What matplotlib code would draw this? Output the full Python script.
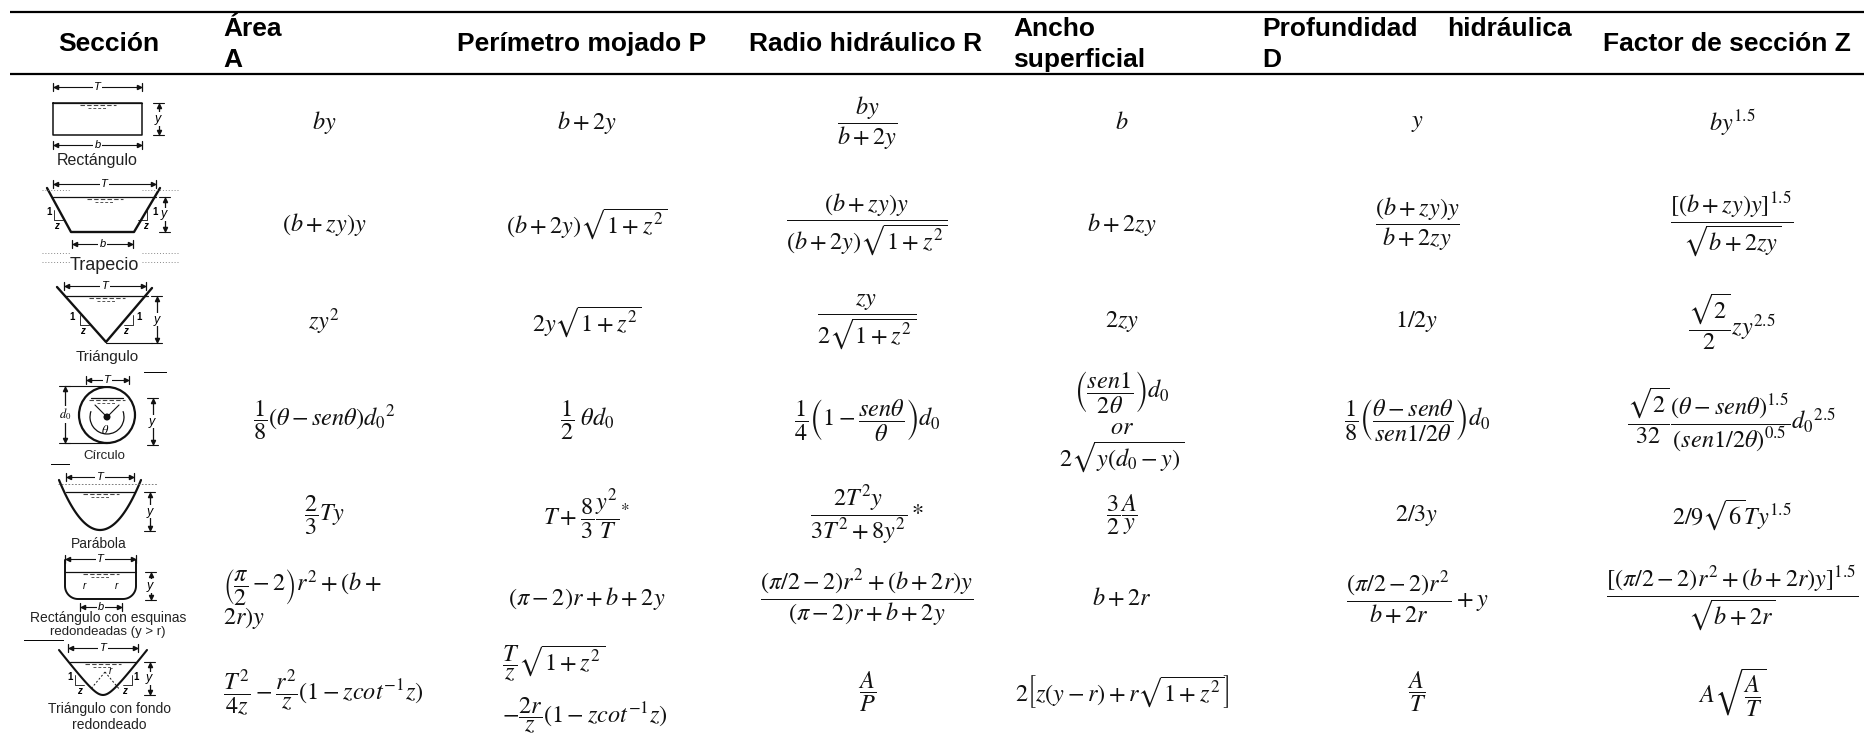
import numpy as np
import matplotlib
matplotlib.use("Agg")
import matplotlib.pyplot as plt
from matplotlib.patches import Circle, Arc

plt.rcParams['font.family'] = ['Liberation Sans', 'DejaVu Sans']
plt.rcParams['mathtext.fontset'] = 'stix'

# ---- table content ----
header_single = ["Sección", "Perímetro mojado P", "Radio hidráulico R", "Factor de sección Z"]
header_single_left = [58, 457, 749, 1603]
header_double = [("Área", "A"), ("Ancho", "superficial"), ("Profundidad", "D")]
header_double_left = [223, 1013, 1262]

area = [r"$by$", r"$(b+zy)y$", r"$zy^2$", r"$\dfrac{1}{8}(\theta-sen\theta){d_0}^{2}$",
        r"$\dfrac{2}{3}Ty$", None, None]
perimetro = [r"$b+2y$", r"$(b+2y)\sqrt{1+z^2}$", r"$2y\sqrt{1+z^2}$", r"$\dfrac{1}{2}\ \theta d_0$",
             r"$T+\dfrac{8}{3}\dfrac{y^2}{T}{}^{*}$", r"$(\pi-2)r+b+2y$", None]
radio = [r"$\dfrac{by}{b+2y}$", r"$\dfrac{(b+zy)y}{(b+2y)\sqrt{1+z^2}}$", r"$\dfrac{zy}{2\sqrt{1+z^2}}$",
         r"$\dfrac{1}{4}\left(1-\dfrac{sen\theta}{\theta}\right)d_0$",
         r"$\dfrac{2T^2y}{3T^2+8y^2}\,{*}$",
         r"$\dfrac{(\pi/2-2)r^2+(b+2r)y}{(\pi-2)r+b+2y}$", r"$\dfrac{A}{P}$"]
ancho = [r"$b$", r"$b+2zy$", r"$2zy$", None, r"$\dfrac{3}{2}\dfrac{A}{y}$", r"$b+2r$",
         r"$2\left[z(y-r)+r\sqrt{1+z^2}\right]$"]
profundidad = [r"$y$", r"$\dfrac{(b+zy)y}{b+2zy}$", r"$1/2y$",
               r"$\dfrac{1}{8}\left(\dfrac{\theta-sen\theta}{sen1/2\theta}\right)d_0$",
               r"$2/3y$", r"$\dfrac{(\pi/2-2)r^2}{b+2r}+y$", r"$\dfrac{A}{T}$"]
factor = [r"$by^{1.5}$", r"$\dfrac{[(b+zy)y]^{1.5}}{\sqrt{b+2zy}}$", r"$\dfrac{\sqrt{2}}{2}zy^{2.5}$",
          r"$\dfrac{\sqrt{2}}{32}\dfrac{(\theta-sen\theta)^{1.5}}{(sen1/2\theta)^{0.5}}{d_0}^{2.5}$",
          r"$2/9\sqrt{6}Ty^{1.5}$", r"$\dfrac{[(\pi/2-2)r^2+(b+2r)y]^{1.5}}{\sqrt{b+2r}}$",
          r"$A\sqrt{\dfrac{A}{T}}$"]
columns = [area, perimetro, radio, ancho, profundidad, factor]
column_centers = [324, 587, 867, 1122, 1417, 1732]
row_centers = [123, 224, 322, 420, 515, 598, 692]

# cells that wrap on several lines: (text, x, y, ha)
wrapped = [
    (r"$\left(\dfrac{\pi}{2}-2\right)r^2+(b+$", 223, 587, "left"),
    (r"$2r)y$", 223, 618, "left"),
    (r"$\dfrac{T^2}{4z}-\dfrac{r^2}{z}(1-zcot^{-1}z)$", 223, 693, "left"),
    (r"$\dfrac{T}{z}\sqrt{1+z^2}$", 502, 664, "left"),
    (r"$-\dfrac{2r}{z}(1-zcot^{-1}z)$", 502, 716, "left"),
    (r"$\left(\dfrac{sen1}{2\theta}\right)d_0$", 1122, 392, "center"),
    (r"$or$", 1122, 428, "center"),
    (r"$2\sqrt{y(d_0-y)}$", 1122, 457, "center"),
]

section_labels = [("Rectángulo", 97, 161, 11.5), ("Trapecio", 104, 265, 13),
                  ("Triángulo", 107, 357, 11), ("Círculo", 104, 456, 9.5),
                  ("Parábola", 99, 544, 10), ("Rectángulo con esquinas", 108, 618, 10),
                  ("redondeadas (y > r)", 108, 632, 9.5), ("Triángulo con fondo", 109, 709, 10),
                  ("redondeado", 109, 725, 10)]

fig = plt.figure(figsize=(18.65, 7.34), dpi=100)
ax = fig.add_axes([0, 0, 1, 1])
ax.set_xlim(0, 1865)
ax.set_ylim(734, 0)
ax.axis("off")

# rules
ax.plot([10, 1865], [11.5, 11.5], color="black", lw=1.6, solid_capstyle="butt")
ax.plot([10, 1865], [73.5, 73.5], color="black", lw=1.6, solid_capstyle="butt")
for xa, xb, yy in [(144, 166, 372), (51, 69, 464), (24, 63, 640)]:
    ax.plot([xa, xb], [yy, yy], color="black", lw=0.7)

# header
HF = 19
for label, xl in zip(header_single, header_single_left):
    ax.text(xl, 44, label, fontsize=HF, fontweight="bold", ha="left", va="center")
for (l1, l2), xl in zip(header_double, header_double_left):
    ax.text(xl, 29, l1, fontsize=HF, fontweight="bold", ha="left", va="center")
    ax.text(xl, 60, l2, fontsize=HF, fontweight="bold", ha="left", va="center")
ax.text(1572, 29, "hidráulica", fontsize=HF, fontweight="bold", ha="right", va="center")

# formulas
MF = 17.5
for col, cx in zip(columns, column_centers):
    for cell, cy in zip(col, row_centers):
        if cell is not None:
            ax.text(cx, cy, cell, fontsize=MF, ha="center", va="center", color="#111111")
for txt, xx, yy, ha in wrapped:
    ax.text(xx, yy, txt, fontsize=MF, ha=ha, va="center", color="#111111")

# section captions
for txt, xx, yy, fs in section_labels:
    ax.text(xx, yy, txt, fontsize=fs, ha="center", va="center", color="#222222")


# ---- sketch helpers ----
def seg(xs, ys, lw=1.2, color="#111111", ls="-"):
    ax.plot(xs, ys, color=color, lw=lw, ls=ls, solid_capstyle="round")


def hdim(x1, x2, y, label):
    seg([x1, x2], [y, y], lw=0.8)
    seg([x1, x1], [y - 4, y + 4], lw=0.9)
    seg([x2, x2], [y - 4, y + 4], lw=0.9)
    ax.plot([x1 + 3], [y], marker="<", ms=3, color="#111111")
    ax.plot([x2 - 3], [y], marker=">", ms=3, color="#111111")
    ax.text((x1 + x2) / 2, y, label, fontsize=8, style="italic", ha="center", va="center",
            bbox=dict(fc="white", ec="none", pad=1))


def vdim(x, y1, y2, label="y", lx=None):
    seg([x, x], [y1, y2], lw=0.9)
    seg([x - 6, x + 5], [y1, y1], lw=0.8)
    seg([x - 6, x + 5], [y2, y2], lw=0.8)
    ax.plot([x], [y1 + 3], marker="^", ms=3, color="#111111")
    ax.plot([x], [y2 - 3], marker="v", ms=3, color="#111111")
    ax.text(x if lx is None else lx, (y1 + y2) / 2, label, fontsize=9, style="italic", ha="center",
            va="center", bbox=dict(fc="white", ec="none", pad=0.5))


def water(x1, x2, y):
    seg([x1, x2], [y, y], lw=0.9)
    xm = (x1 + x2) / 2
    seg([xm - 18, xm + 18], [y + 2, y + 2], lw=0.8, color="#444444", ls=(0, (4, 2)))
    seg([xm - 10, xm + 8], [y + 5, y + 5], lw=0.7, color="#555555", ls=(0, (3, 2)))


def slope(x, y, sx, side_label_x, z_x):
    seg([x, x, x + sx], [y - 10, y, y], lw=0.6)
    ax.text(side_label_x, y - 8, "1", fontsize=7, fontweight="bold", ha="center", va="center")
    ax.text(z_x, y + 6, "z", fontsize=7, style="italic", fontweight="bold", ha="center", va="center")


# rectangle
hdim(53, 142, 87, "T")
seg([53, 53, 142, 142, 53], [103, 135, 135, 103, 103], lw=1.1)
water(53, 142, 103)
vdim(159, 103, 135, lx=158)
hdim(53, 142, 145, "b")

# trapezoid
hdim(53, 156, 184, "T")
seg([47, 71, 134, 160], [188, 232, 232, 188], lw=1.7)
water(53, 156, 197)
vdim(165, 197, 232, lx=164)
hdim(72, 133, 244, "b")
slope(54, 220, 9, 49, 56)
slope(147, 220, -9, 155, 145)
for yy in (190, 253, 262):
    seg([42, 70], [yy, yy], lw=0.7, color="#888888", ls=(0, (1, 2)))
    seg([142, 178], [yy, yy], lw=0.7, color="#888888", ls=(0, (1, 2)))

# triangle
hdim(64, 146, 286, "T")
seg([57, 106, 152], [287, 342, 288], lw=1.7)
water(65, 148, 296)
vdim(157, 296, 343, lx=157)
seg([106, 152], [343, 343], lw=0.8)
slope(80, 325, 9, 72, 82)
slope(133, 325, -9, 139, 125)

# circle
hdim(86, 129, 380, "T")
ax.add_patch(Circle((107, 415), 28, fill=False, ec="#111111", lw=1.6))
water(91, 123, 398)
ax.add_patch(Circle((107, 417), 3.5, fc="#111111", ec="none"))
seg([65, 107], [386, 386], lw=0.8)
seg([65, 107], [443, 443], lw=0.8)
vdim(65, 386, 443, r"$d_0$")
vdim(153, 398, 445, lx=152)
ax.add_patch(Arc((107, 417), 34, 34, theta1=-20, theta2=200, ec="#111111", lw=0.9))
seg([107, 95], [417, 405], lw=0.8)
seg([107, 119], [417, 405], lw=0.8)
ax.text(105, 431, r"$\theta$", fontsize=9, ha="center", va="center")

# parabola
hdim(66, 134, 477, "T")
t = np.linspace(-1, 1, 60)
seg(100 + 41 * t, 530 - 50 * t ** 2, lw=1.6)
water(66, 135, 492)
seg([58, 158], [484, 484], lw=0.6, color="#666666", ls=(0, (2, 2)))
vdim(150, 492, 531, lx=150)

# rectangle with rounded corners
hdim(65, 136, 559, "T")
a = np.linspace(0, np.pi / 2, 20)
cr = 13
xl = 65 + cr - cr * np.cos(a)
yl = 599 - cr + cr * np.sin(a)
xs = np.r_[65, xl, 136 - cr + cr * np.cos(a[::-1]), 136]
ys = np.r_[560, yl, 599 - cr + cr * np.sin(a[::-1]), 560]
seg(xs, ys, lw=1.4)
water(65, 136, 572)
vdim(151, 572, 600, lx=150)
hdim(80, 122, 607, "b")
ax.text(84, 586, "r", fontsize=7, style="italic", ha="center", va="center")
ax.text(116, 586, "r", fontsize=7, style="italic", ha="center", va="center")

# triangle with rounded bottom
hdim(68, 138, 648, "T")
dx = np.linspace(-44, 44, 60)
curve_k = 45 / (np.hypot(44, 10) - 10)
seg(103 + dx, 695 - curve_k * (np.hypot(dx, 10) - 10), lw=1.5)
water(70, 136, 662)
vdim(150, 662, 695, lx=149)
seg([105, 90], [672, 690], lw=0.7, ls=(0, (2, 2)))
seg([105, 120], [672, 690], lw=0.7, ls=(0, (2, 2)))
ax.text(110, 671, "r", fontsize=7, style="italic", ha="center", va="center")
slope(75, 685, 9, 70, 79)
slope(132, 685, -9, 136, 124)

fig.savefig("out.png", dpi=100)
